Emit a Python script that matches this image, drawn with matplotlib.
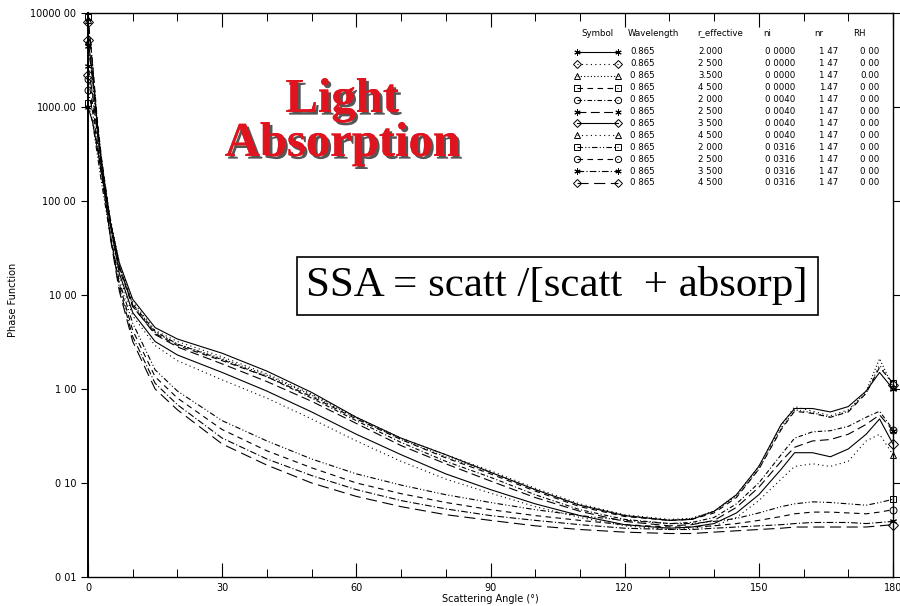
import matplotlib
matplotlib.use('Agg')
from matplotlib import pyplot as plt
from matplotlib import patheffects
from matplotlib.ticker import FixedLocator, NullFormatter

# scattering angles (deg) at which the curves were read
angles = [0, 1, 2, 3, 5, 7, 10, 15, 20, 30, 40, 50, 60, 70, 80, 90, 100, 110, 120,
          130, 135, 140, 145, 150, 155, 158, 162, 166, 170, 174, 177, 180]

# ni = 0.0000
p_r20_ni0 = [1000, 700, 380, 200, 60, 22, 9.0, 4.5, 3.4, 2.4, 1.55, 0.92, 0.50, 0.30, 0.20, 0.13, 0.085, 0.058, 0.045,
             0.040, 0.041, 0.050, 0.075, 0.15, 0.42, 0.62, 0.62, 0.57, 0.65, 0.95, 1.5, 1.0]
p_r25_ni0 = [2200, 1300, 550, 260, 65, 22, 8.5, 4.2, 3.2, 2.2, 1.45, 0.88, 0.50, 0.30, 0.20, 0.135, 0.088, 0.060, 0.046,
             0.041, 0.042, 0.050, 0.075, 0.15, 0.40, 0.65, 0.58, 0.52, 0.60, 0.90, 1.8, 1.1]
p_r35_ni0 = [5000, 2200, 700, 280, 62, 20, 7.8, 4.0, 3.0, 2.1, 1.40, 0.86, 0.49, 0.29, 0.19, 0.13, 0.085, 0.058, 0.045,
             0.040, 0.042, 0.050, 0.072, 0.14, 0.38, 0.60, 0.56, 0.50, 0.58, 0.95, 2.1, 1.05]
p_r45_ni0 = [9000, 3000, 800, 290, 60, 19, 7.5, 3.9, 2.9, 2.0, 1.35, 0.83, 0.48, 0.29, 0.185, 0.125, 0.082, 0.056, 0.044,
             0.040, 0.041, 0.048, 0.070, 0.14, 0.37, 0.58, 0.55, 0.50, 0.57, 0.90, 1.7, 1.16]
# ni = 0.0040
p_r20_ni1 = [1500, 900, 420, 210, 58, 20, 8.0, 4.1, 3.0, 2.05, 1.35, 0.80, 0.46, 0.27, 0.17, 0.115, 0.075, 0.052, 0.041,
             0.037, 0.038, 0.043, 0.060, 0.10, 0.20, 0.30, 0.35, 0.36, 0.40, 0.50, 0.58, 0.37]
p_r25_ni1 = [2700, 1400, 560, 250, 60, 20, 7.6, 3.8, 2.8, 1.85, 1.20, 0.74, 0.43, 0.25, 0.16, 0.105, 0.070, 0.050, 0.039,
             0.035, 0.036, 0.040, 0.055, 0.09, 0.17, 0.24, 0.28, 0.29, 0.33, 0.42, 0.53, 0.36]
p_r35_ni1 = [5200, 2300, 700, 270, 55, 17, 6.5, 3.2, 2.3, 1.50, 0.95, 0.57, 0.33, 0.20, 0.125, 0.085, 0.060, 0.045, 0.036,
             0.033, 0.034, 0.037, 0.048, 0.075, 0.14, 0.21, 0.21, 0.19, 0.23, 0.33, 0.48, 0.26]
p_r45_ni1 = [8500, 3000, 780, 280, 52, 16, 6.0, 2.9, 2.0, 1.25, 0.80, 0.48, 0.28, 0.17, 0.11, 0.078, 0.056, 0.043, 0.035,
             0.032, 0.033, 0.035, 0.043, 0.065, 0.11, 0.15, 0.16, 0.15, 0.17, 0.28, 0.33, 0.20]
# ni = 0.0316
p_r20_ni2 = [1100, 700, 330, 160, 42, 14, 5.0, 1.6, 0.95, 0.46, 0.28, 0.18, 0.125, 0.095, 0.075, 0.062, 0.052, 0.045, 0.040,
             0.037, 0.037, 0.039, 0.042, 0.048, 0.056, 0.060, 0.063, 0.062, 0.060, 0.058, 0.062, 0.067]
p_r25_ni2 = [2000, 1100, 450, 190, 44, 13, 4.2, 1.35, 0.80, 0.37, 0.22, 0.145, 0.10, 0.077, 0.062, 0.052, 0.045, 0.040, 0.036,
             0.034, 0.034, 0.035, 0.037, 0.040, 0.044, 0.047, 0.049, 0.049, 0.048, 0.047, 0.049, 0.052]
p_r35_ni2 = [4500, 2000, 600, 220, 42, 12, 3.6, 1.15, 0.68, 0.30, 0.18, 0.12, 0.085, 0.065, 0.053, 0.045, 0.040, 0.036, 0.033,
             0.032, 0.032, 0.033, 0.034, 0.035, 0.036, 0.037, 0.038, 0.038, 0.038, 0.037, 0.038, 0.039]
p_r45_ni2 = [8000, 2800, 720, 240, 40, 11, 3.2, 1.0, 0.60, 0.26, 0.155, 0.10, 0.072, 0.056, 0.046, 0.040, 0.035, 0.032, 0.030,
             0.029, 0.029, 0.030, 0.031, 0.032, 0.033, 0.034, 0.034, 0.034, 0.034, 0.034, 0.035, 0.036]

curves = [p_r20_ni0, p_r25_ni0, p_r35_ni0, p_r45_ni0,
          p_r20_ni1, p_r25_ni1, p_r35_ni1, p_r45_ni1,
          p_r20_ni2, p_r25_ni2, p_r35_ni2, p_r45_ni2]

wavelength = ['0.865', '0.865', '0 865', '0 865', '0 865', '0 865', '0 865', '0 865', '0 865', '0 865', '0 865', '0 865']
r_effective = ['2.000', '2 500', '3.500', '4 500', '2 000', '2 500', '3 500', '4 500', '2 000', '2 500', '3 500', '4 500']
ni_txt = ['0 0000', '0 0000', '0 0000', '0 0000', '0 0040', '0 0040', '0 0040', '0 0040', '0 0316', '0 0316', '0 0316', '0 0316']
nr_txt = ['1 47', '1 47', '1 47', '1.47', '1 47', '1 47', '1 47', '1 47', '1 47', '1 47', '1 47', '1 47']
rh_txt = ['0 00', '0 00', '0.00', '0 00', '0 00', '0 00', '0 00', '0 00', '0 00', '0 00', '0 00', '0 00']

xtick_vals = [0, 30, 60, 90, 120, 150, 180]
xtick_labels = ['0', '30', '60', '90', '120', '150', '180']
ytick_vals = [0.01, 0.1, 1, 10, 100, 1000, 10000]
ytick_labels = ['0 01', '0 10', '1 00', '10 00', '100 00', '1000.00', '10000 00']

# line style / symbol for each curve (asterisk = 6-arm star)
star = (6, 2, 0)
styles = ['-', (0, (1, 3)), (0, (1, 2)), (0, (5, 4)),
          (0, (4, 2, 1, 2)), (0, (8, 4)), '-', (0, (1, 3)),
          (0, (5, 2, 1, 2, 1, 2)), (0, (5, 4)), (0, (6, 2, 1, 2)), (0, (10, 5))]
markers = [star, 'D', '^', 's', 'o', star, 'D', '^', 's', 'o', star, 'D']

fig = plt.figure(figsize=(9, 6.06), dpi=100)
ax = fig.add_axes([0.0978, 0.0479, 0.8944, 0.9306])

for vals, ls, mk in zip(curves, styles, markers):
    ax.plot(angles, vals, color='black', lw=0.8, linestyle=ls, marker=mk, markevery=[0, len(angles) - 1],
            markersize=5, markerfacecolor='none', markeredgewidth=0.7, clip_on=False)

ax.set_yscale('log')
ax.set_xlim(0, 180)
ax.set_ylim(0.01, 10000)
ax.yaxis.set_major_locator(FixedLocator(ytick_vals))
ax.yaxis.set_minor_locator(FixedLocator([]))
ax.yaxis.set_minor_formatter(NullFormatter())
ax.set_yticklabels(ytick_labels)
ax.set_xticks(xtick_vals)
ax.set_xticklabels(xtick_labels)
ax.set_xticks(range(10, 180, 10), minor=True)
ax.tick_params(axis='x', which='major', direction='in', length=10, width=0.8, top=True, labelsize=7, pad=4)
ax.tick_params(axis='x', which='minor', direction='in', length=6, width=0.7, top=True)
ax.tick_params(axis='y', which='major', direction='out', length=5, width=0.8, labelsize=7, right=True)
for s in ax.spines.values():
    s.set_linewidth(1.0)
ax.spines['left'].set_linewidth(1.4)

ax.set_xlabel('Scattering Angle (°)', fontsize=7, labelpad=1)
fig.text(13 / 900, 1 - 300 / 606.0, 'Phase Function', fontsize=7, rotation=90, ha='center', va='center')

# big title with shadow
title = ax.text(0.316, 0.807, 'Light\nAbsorption', transform=ax.transAxes, ha='center', va='center',
                fontsize=35, fontweight='bold', family='Liberation Serif', color='#e0141e', linespacing=1.0)
title.set_path_effects([patheffects.withSimplePatchShadow(offset=(2, -2), shadow_rgbFace='#444444', alpha=0.9),
                        patheffects.Normal()])

ax.text(0.583, 0.516, 'SSA = scatt /[scatt  + absorp]', transform=ax.transAxes, ha='center', va='center',
        fontsize=31, family='Liberation Serif',
        bbox=dict(boxstyle='square,pad=0.22', fc='white', ec='black', lw=1.2))

# legend table, top right, in figure pixels
def fx(px):
    return px / 900.0


def fy(py):
    return 1 - py / 606.0


hdr_y = 33
fs = 6.2
for txt, px in [('Symbol', 581), ('Wavelength', 628), ('r_effective', 697), ('ni', 763), ('nr', 814), ('RH', 853)]:
    fig.text(fx(px), fy(hdr_y), txt, fontsize=fs, va='center', ha='left')

for i in range(12):
    py = 52 + i * 11.9
    fig.add_artist(plt.Line2D([fx(577), fx(618)], [fy(py), fy(py)], color='black', lw=0.8, linestyle=styles[i],
                              marker=markers[i], markersize=4.5, markerfacecolor='none', markeredgewidth=0.7,
                              transform=fig.transFigure))
    fig.text(fx(630), fy(py), wavelength[i], fontsize=fs, va='center')
    fig.text(fx(698), fy(py), r_effective[i], fontsize=fs, va='center')
    fig.text(fx(765), fy(py), ni_txt[i], fontsize=fs, va='center')
    fig.text(fx(819), fy(py), nr_txt[i], fontsize=fs, va='center')
    fig.text(fx(860), fy(py), rh_txt[i], fontsize=fs, va='center')

fig.savefig('out.png', dpi=100)
